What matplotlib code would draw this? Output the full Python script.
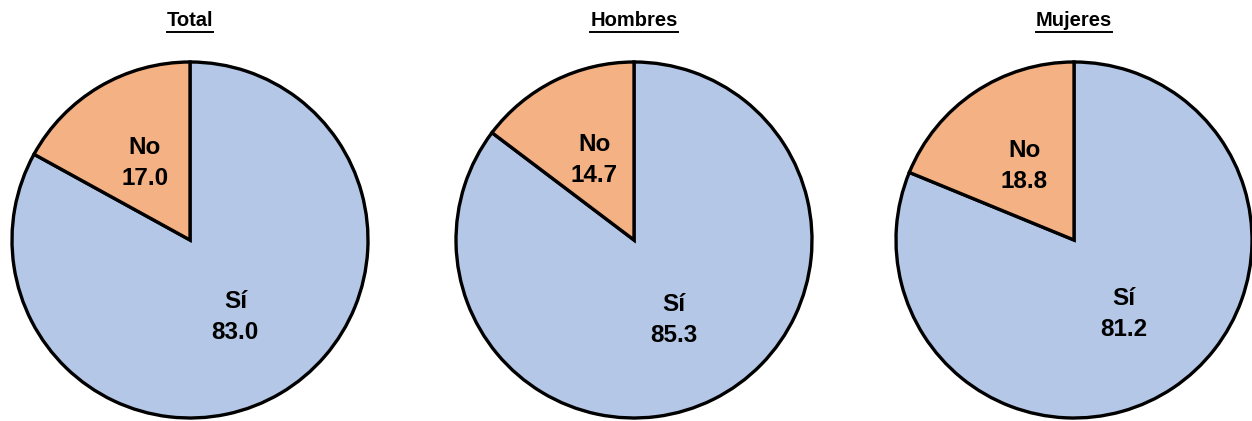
import matplotlib
matplotlib.use('Agg')
import matplotlib.pyplot as plt
from matplotlib.lines import Line2D

plt.rcParams['font.family'] = ['Liberation Sans', 'DejaVu Sans']

# datos
titles = ['Total', 'Hombres', 'Mujeres']
labels = ['Sí', 'No']
si_vals = [83.0, 85.3, 81.2]
no_vals = [17.0, 14.7, 18.8]
colors = ['#B4C7E7', '#F4B183']

W, H = 1252, 421
fig = plt.figure(figsize=(W / 100, H / 100), dpi=100)

centers_x = [190, 634, 1074]
cy = 181
r = 178

title_texts = []
for i in range(3):
    cx = centers_x[i]
    ax = fig.add_axes([(cx - r) / W, (cy - r) / H, 2 * r / W, 2 * r / H])
    vals = [si_vals[i], no_vals[i]]
    txt = ['%s\n%.1f' % (labels[k], vals[k]) for k in range(2)]
    wedges, texts = ax.pie(vals, colors=colors, startangle=90, counterclock=False,
                           labels=txt, labeldistance=0.5,
                           wedgeprops=dict(edgecolor='black', linewidth=2.4),
                           textprops=dict(fontsize=17.5, fontweight='bold', ha='center', va='center',
                                          linespacing=1.45))
    ax.set_xlim(-1, 1)
    ax.set_ylim(-1, 1)
    for w in wedges:
        w.set_clip_on(False)
    t = fig.text(cx / W, (H - 21) / H, titles[i], ha='center', va='center',
                 fontsize=14.5, fontweight='bold')
    title_texts.append(t)

# subrayado de títulos
fig.canvas.draw()
rend = fig.canvas.get_renderer()
for t in title_texts:
    bb = t.get_window_extent(renderer=rend)
    y = (bb.y0 - 1) / H
    fig.add_artist(Line2D([bb.x0 / W, bb.x1 / W], [y, y], color='black', linewidth=1.4))

fig.savefig('out.png', dpi=100)
